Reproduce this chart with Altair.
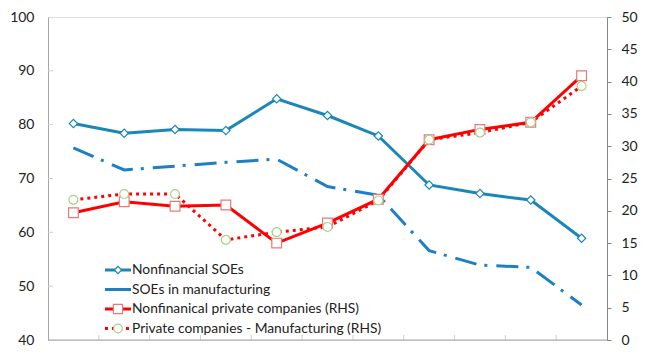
import altair as alt
import pandas as pd

# Eleven unlabeled periods along the x axis
periods = list(range(1, 12))

# Left-hand scale series
nonfin_soes = [80.2, 78.4, 79.1, 78.9, 84.8, 81.7, 77.9, 68.8, 67.2, 66.0, 58.9]
soes_manuf = [75.7, 71.6, 72.3, 73.0, 73.6, 68.5, 66.9, 56.6, 53.9, 53.5, 46.5]

# Right-hand scale series
nonfin_private = [19.7, 21.4, 20.7, 20.9, 15.0, 18.1, 21.8, 31.0, 32.6, 33.7, 40.9]
private_manuf = [21.7, 22.6, 22.6, 15.5, 16.7, 17.5, 21.6, 31.0, 32.1, 33.7, 39.3]

left_ticks = [40, 50, 60, 70, 80, 90, 100]
right_ticks = [0, 5, 10, 15, 20, 25, 30, 35, 40, 45, 50]

legend_labels = [
    "Nonfinancial SOEs",
    "SOEs in manufacturing",
    "Nonfinanical private companies (RHS)",
    "Private companies - Manufacturing (RHS)",
]

BLUE = "#1a87b6"
BLUE2 = "#1e7fc6"
RED = "#ff0000"
FONT = "Lato"
W, H = 559, 323

df = pd.DataFrame({
    "period": periods,
    "nonfin_soes": nonfin_soes,
    "soes_manuf": soes_manuf,
    "nonfin_private": nonfin_private,
    "private_manuf": private_manuf,
})

xscale = alt.Scale(domain=[0.5, 11.5], nice=False, zero=False)
x = alt.X("period:Q", scale=xscale, axis=None)

yl_scale = alt.Scale(domain=[40, 100], nice=False, zero=False)
yr_scale = alt.Scale(domain=[0, 50], nice=False)

left_axis = alt.Axis(values=left_ticks, title=None, grid=False, ticks=False,
                     domainColor="#a6a6a6", labelPadding=14, labelFontSize=14,
                     labelFont=FONT, labelColor="#222222")
right_axis = alt.Axis(values=right_ticks, title=None, grid=False, orient="right",
                      tickSize=4, tickColor="#868686", domainColor="#868686",
                      labelPadding=10, labelFontSize=14, labelFont=FONT,
                      labelColor="#222222")

base = alt.Chart(df)

# Left scale layer
soe_line = base.mark_line(color=BLUE, strokeWidth=3).encode(
    x=x, y=alt.Y("nonfin_soes:Q", scale=yl_scale, axis=left_axis))
soe_pts = base.mark_point(shape="diamond", filled=True, fill="white", stroke=BLUE,
                          strokeWidth=1.2, size=70, opacity=1).encode(
    x=x, y=alt.Y("nonfin_soes:Q", scale=yl_scale, axis=left_axis))
soe_m_line = base.mark_line(color=BLUE2, strokeWidth=3, strokeDash=[22, 8, 3, 9],
                            strokeCap="butt").encode(
    x=x, y=alt.Y("soes_manuf:Q", scale=yl_scale, axis=left_axis))

# Inward ticks on the left axis
lt = pd.DataFrame({"v": left_ticks[1:-1]})
left_tick_marks = alt.Chart(lt).mark_rule(color="#d0d0d0", strokeWidth=1).encode(
    y=alt.Y("v:Q", scale=yl_scale, axis=left_axis),
    x=alt.value(0), x2=alt.value(5))

left_layer = alt.layer(left_tick_marks, soe_m_line, soe_line, soe_pts)

# Right scale layer
priv_m_line = base.mark_line(color=RED, strokeWidth=3, strokeDash=[3, 4],
                             strokeCap="butt").encode(
    x=x, y=alt.Y("private_manuf:Q", scale=yr_scale, axis=right_axis))
priv_m_pts = base.mark_point(shape="circle", filled=True, fill="white",
                             stroke="#a9d18e", strokeWidth=1.2, size=80, opacity=1).encode(
    x=x, y=alt.Y("private_manuf:Q", scale=yr_scale, axis=right_axis))
priv_line = base.mark_line(color=RED, strokeWidth=3).encode(
    x=x, y=alt.Y("nonfin_private:Q", scale=yr_scale, axis=right_axis))
priv_pts = base.mark_point(shape="square", filled=True, fill="white",
                           stroke="#e8797a", strokeWidth=1.2, size=95, opacity=1).encode(
    x=x, y=alt.Y("nonfin_private:Q", scale=yr_scale, axis=right_axis))

right_layer = alt.layer(priv_m_line, priv_line, priv_pts, priv_m_pts)

# Bottom axis line and inward category ticks
bounds = pd.DataFrame({"b": [p + 0.5 for p in periods[:-1]]})
x_ticks = alt.Chart(bounds).mark_rule(color="#d0d0d0", strokeWidth=1).encode(
    x=alt.X("b:Q", scale=xscale, axis=None),
    y=alt.value(H - 5), y2=alt.value(H))
bottom_line = alt.Chart(pd.DataFrame({"a": [0]})).mark_rule(
    color="#a6a6a6", strokeWidth=1).encode(
    x=alt.value(0), x2=alt.value(W), y=alt.value(H))

# Legend drawn inside the plot area
leg = pd.DataFrame({"label": legend_labels, "row": [0, 1, 2, 3]})
leg_y = [253, 272.5, 292, 311.5]
leg_parts = []
sym_x0, sym_x1, sym_mid, txt_x = 57, 83, 70, 84
styles = [
    dict(color=BLUE, dash=None, marker=("diamond", BLUE, 55)),
    dict(color=BLUE2, dash=None, marker=None),
    dict(color=RED, dash=None, marker=("square", "#e8797a", 85)),
    dict(color=RED, dash=[3, 4], marker=("circle", "#a9d18e", 75)),
]
for i, st in enumerate(styles):
    row = leg[leg.row == i]
    rule_kw = dict(color=st["color"], strokeWidth=3)
    if st["dash"]:
        rule_kw["strokeDash"] = st["dash"]
    leg_parts.append(alt.Chart(row).mark_rule(**rule_kw).encode(
        x=alt.value(sym_x0), x2=alt.value(sym_x1), y=alt.value(leg_y[i])))
    if st["marker"]:
        shp, col, sz = st["marker"]
        leg_parts.append(alt.Chart(row).mark_point(
            shape=shp, filled=True, fill="white", stroke=col, strokeWidth=1.2,
            size=sz, opacity=1).encode(x=alt.value(sym_mid), y=alt.value(leg_y[i])))
    leg_parts.append(alt.Chart(row).mark_text(
        align="left", baseline="middle", font=FONT, fontSize=13.8, color="#222222").encode(
        x=alt.value(txt_x), y=alt.value(leg_y[i]), text="label:N"))

chart = alt.layer(
    left_layer, right_layer, x_ticks, bottom_line, *leg_parts
).resolve_scale(y="independent").properties(
    width=W, height=H,
    autosize=alt.AutoSizeParams(type="none"),
    padding={"left": 48, "top": 17, "right": 42, "bottom": 14},
).configure_view(stroke="#d9d9d9", strokeWidth=1).configure(background="white")

chart.save("out.html", embed_options={"renderer": "svg", "actions": False})
